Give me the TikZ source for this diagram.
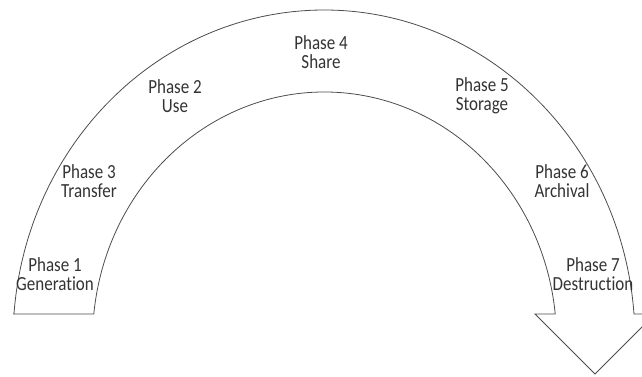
\documentclass[tikz,border=0pt]{standalone}
\usepackage{fontspec}
\newfontfamily\phasefont[FakeStretch=0.85, Ligatures=NoCommon]{Carlito}
\usepackage{tikz}

\begin{document}
\begin{tikzpicture}[x=1pt, y=1pt, phase/.style = {align=center, inner sep=0pt, text=black!80, font=\phasefont\fontsize{20}{18.5}\selectfont}]
			\useasboundingbox (0,0) rectangle (642,376);
			% the arc arrow
			\draw[black!70, line width=0.8pt, line join=miter] (13,62) -- (93.8,62)
				arc[start angle=173.98, end angle=6.02, x radius=232, y radius=248]
				-- (535,62) -- (595,2) -- (655,62) -- (634,62)
				arc[start angle=4.52, end angle=175.48, x radius=311, y radius=330] -- cycle;
			\node[phase] (p1) at (55,102) {Phase 1\\Generation};
			\node[phase] (p3) at (89,195) {Phase 3\\Transfer};
			\node[phase] (p2) at (175,280) {Phase 2\\Use};
			\node[phase] (p4) at (321,324) {Phase 4\\Share};
			\node[phase] (p5) at (482,280) {Phase 5\\Storage};
			\node[phase] (p6) at (562,195) {Phase 6\\Archival};
			\node[phase] (p7) at (593,102) {Phase 7\\Destruction};
		\end{tikzpicture}
\end{document}
